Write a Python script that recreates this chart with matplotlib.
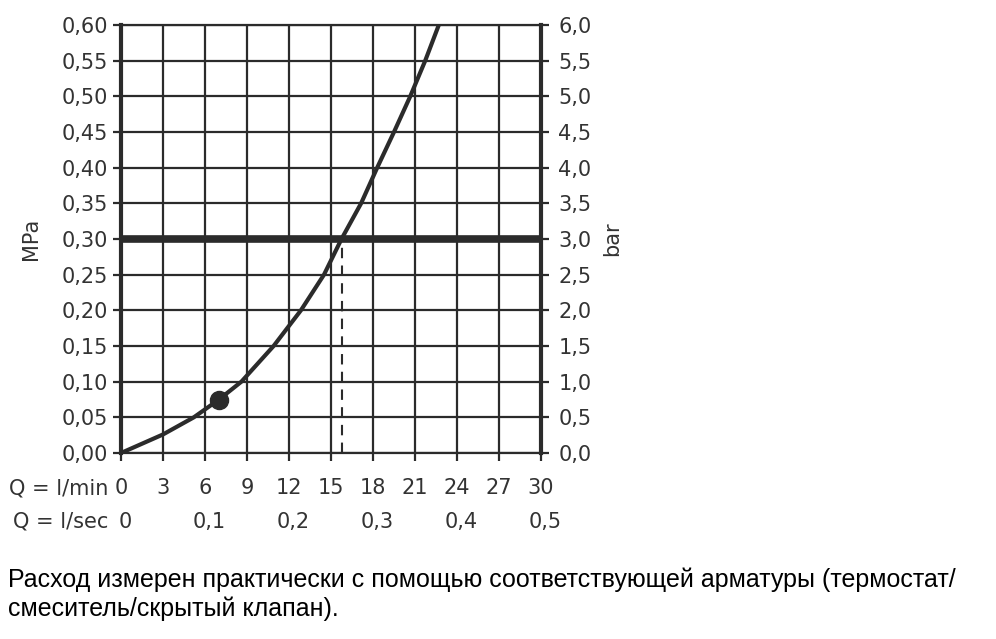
import numpy as np
import matplotlib
matplotlib.use("Agg")
from matplotlib import pyplot as plt
import matplotlib.transforms as mtrans

# flow (l/min) vs pressure (MPa)
flow = [0, 3, 5.2, 7.0, 8.6, 10.9, 12.85, 14.5, 15.75, 17.15, 18.3, 19.5, 20.66, 21.73, 22.7]
pressure = [0, 0.026, 0.05, 0.075, 0.10, 0.15, 0.20, 0.25, 0.30, 0.35, 0.40, 0.45, 0.50, 0.55, 0.60]

marker_flow = 7.0
marker_pressure = 0.075
ref_pressure = 0.30
ref_flow = 15.8

lmin_ticks = [0, 3, 6, 9, 12, 15, 18, 21, 24, 27, 30]
lsec_pos = [0, 6, 12, 18, 24, 30]
lsec_labels = ["0", "0,1", "0,2", "0,3", "0,4", "0,5"]
mpa_ticks = [0.00, 0.05, 0.10, 0.15, 0.20, 0.25, 0.30, 0.35, 0.40, 0.45, 0.50, 0.55, 0.60]
bar_labels = ["0,0", "0,5", "1,0", "1,5", "2,0", "2,5", "3,0", "3,5", "4,0", "4,5", "5,0", "5,5", "6,0"]

note1 = "Расход измерен практически с помощью соответствующей арматуры (термостат/"
note2 = "смеситель/скрытый клапан)."

ink = "#2b2b2b"
txt = "#333333"
fs = 15
plt.rcParams["font.family"] = "DejaVu Sans"

fig = plt.figure(figsize=(9.96, 6.39), dpi=100)
ax = fig.add_axes([121 / 996, 1 - 453 / 639, 420 / 996, 428 / 639])

ax.set_xlim(0, 30)
ax.set_ylim(0, 0.6)
ax.set_xticks(lmin_ticks)
ax.set_xticklabels([str(t) for t in lmin_ticks])
ax.set_yticks(mpa_ticks)
ax.set_yticklabels([f"{t:.2f}".replace(".", ",") for t in mpa_ticks])
ax.grid(True, color=ink, lw=1.6)
ax.set_axisbelow(True)

ax.tick_params(axis="both", direction="out", length=6, width=1.6, color=ink,
               labelsize=fs, labelcolor=txt)
ax.tick_params(axis="x", pad=12)
ax.tick_params(axis="y", pad=3.5)
for side in ["left", "right"]:
    ax.spines[side].set_linewidth(3)
    ax.spines[side].set_color(ink)
for side in ["top", "bottom"]:
    ax.spines[side].set_linewidth(1.6)
    ax.spines[side].set_color(ink)

ax.axhline(ref_pressure, color=ink, lw=5.5, zorder=3)
ax.plot([ref_flow, ref_flow], [0, ref_pressure], color=ink, lw=1.5, ls=(0, (5, 3.5)), zorder=3)
ax.plot(flow, pressure, color=ink, lw=3, zorder=4, solid_capstyle="butt")
ax.plot(marker_flow, marker_pressure, "o", color=ink, ms=13, zorder=5)

ax.set_ylabel("MPa", fontsize=fs, color=txt)
ax.yaxis.set_label_coords(-0.19, 0.5)

ax2 = ax.twinx()
ax2.set_ylim(0, 6)
ax2.set_yticks(np.arange(0, 6.01, 0.5))
ax2.set_yticklabels(bar_labels)
ax2.tick_params(axis="y", direction="out", length=6, width=1.6, color=ink,
                labelsize=fs, labelcolor=txt, pad=6.5)
for s in ax2.spines.values():
    s.set_visible(False)
ax2.set_ylabel("bar", fontsize=fs, color=txt)
ax2.yaxis.set_label_coords(1.145, 0.5)

# row labels and the l/sec row
trans = mtrans.blended_transform_factory(ax.transData, ax.transAxes)
ax.text(-0.031, -0.082, "Q = l/min", transform=ax.transAxes, ha="right", va="center",
        fontsize=fs, color=txt)
ax.text(-0.031, -0.161, "Q = l/sec", transform=ax.transAxes, ha="right", va="center",
        fontsize=fs, color=txt)
for pos, lab in zip(lsec_pos, lsec_labels):
    ax.text(pos + 0.3, -0.161, lab, transform=trans, ha="center", va="center",
            fontsize=fs, color=txt)

fig.text(8 / 996, 1 - 587 / 639, note1, family="Liberation Sans", fontsize=18,
         ha="left", va="baseline", color="black")
fig.text(8 / 996, 1 - 616 / 639, note2, family="Liberation Sans", fontsize=18,
         ha="left", va="baseline", color="black")

fig.savefig("out.png", dpi=100)
